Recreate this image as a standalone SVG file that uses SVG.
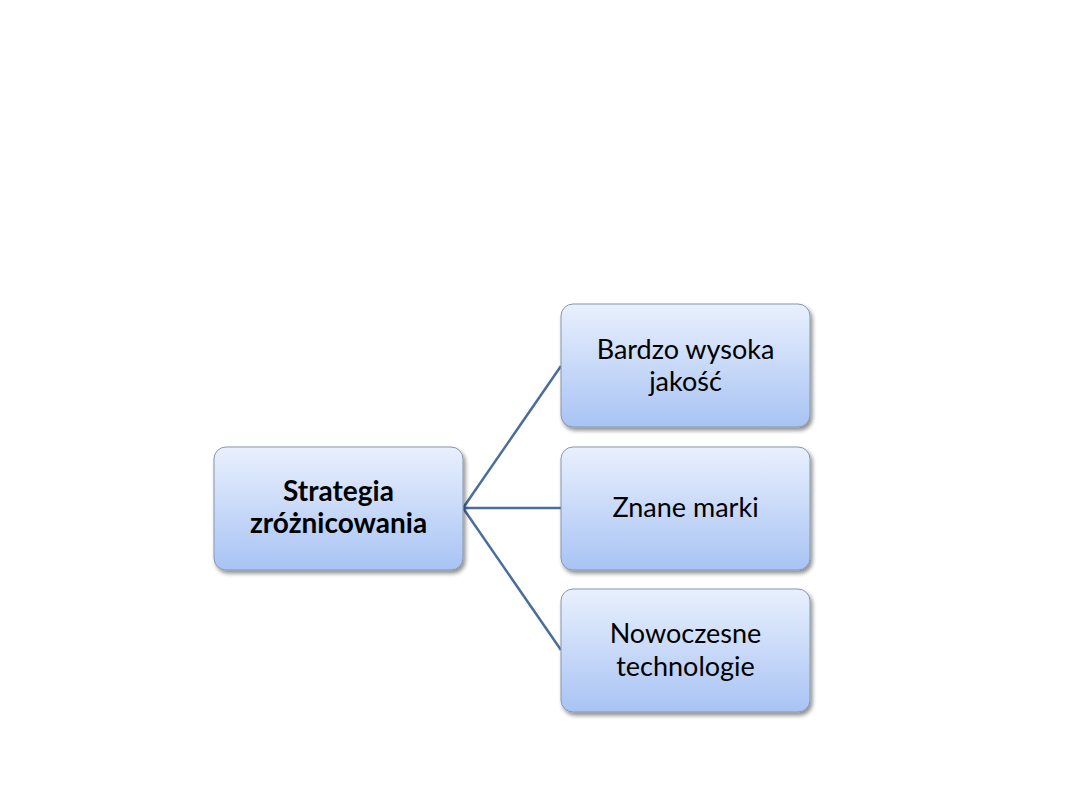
<svg xmlns="http://www.w3.org/2000/svg" width="1080" height="810" viewBox="0 0 1080 810">
<defs>
<linearGradient id="g" x1="0" y1="0" x2="0" y2="1">
<stop offset="0" stop-color="#e9f0fd"/>
<stop offset="1" stop-color="#a8c3f4"/>
</linearGradient>
<filter id="sh" x="-10%" y="-10%" width="125%" height="130%">
<feGaussianBlur in="SourceAlpha" stdDeviation="2"/>
<feOffset dx="2" dy="3" result="b"/>
<feComponentTransfer><feFuncA type="linear" slope="0.45"/></feComponentTransfer>
<feMerge><feMergeNode/><feMergeNode in="SourceGraphic"/></feMerge>
</filter>
</defs>
<style>
.box{fill:url(#g);stroke:#8797ad;stroke-width:1;filter:url(#sh)}
.t{font-family:Lato,"Open Sans","Liberation Sans",sans-serif;font-size:27px;fill:#000;text-anchor:middle}
.b{font-weight:bold;font-size:28px}
.c{stroke:#4a6d9c;stroke-width:2.5;fill:none}
</style>
<rect width="1080" height="810" fill="#fff"/>
<g id="connectors">
<line class="c" x1="463" y1="508" x2="561" y2="366"/>
<line class="c" x1="463" y1="508" x2="561" y2="508"/>
<line class="c" x1="463" y1="508" x2="561" y2="650"/>
</g>
<g id="root">
<rect class="box" x="214" y="447" width="249" height="123" rx="12"/>
<text class="t b" x="338.5" y="501">Strategia</text>
<text class="t b" x="338.5" y="533">zróżnicowania</text>
</g>
<g id="n1">
<rect class="box" x="561" y="304" width="249" height="123" rx="12"/>
<text class="t" x="685.5" y="359">Bardzo wysoka</text>
<text class="t" x="685.5" y="391">jakość</text>
</g>
<g id="n2">
<rect class="box" x="561" y="447" width="249" height="123" rx="12"/>
<text class="t" x="685.5" y="517">Znane marki</text>
</g>
<g id="n3">
<rect class="box" x="561" y="589" width="249" height="123" rx="12"/>
<text class="t" x="685.5" y="643">Nowoczesne</text>
<text class="t" x="685.5" y="676">technologie</text>
</g>
</svg>
